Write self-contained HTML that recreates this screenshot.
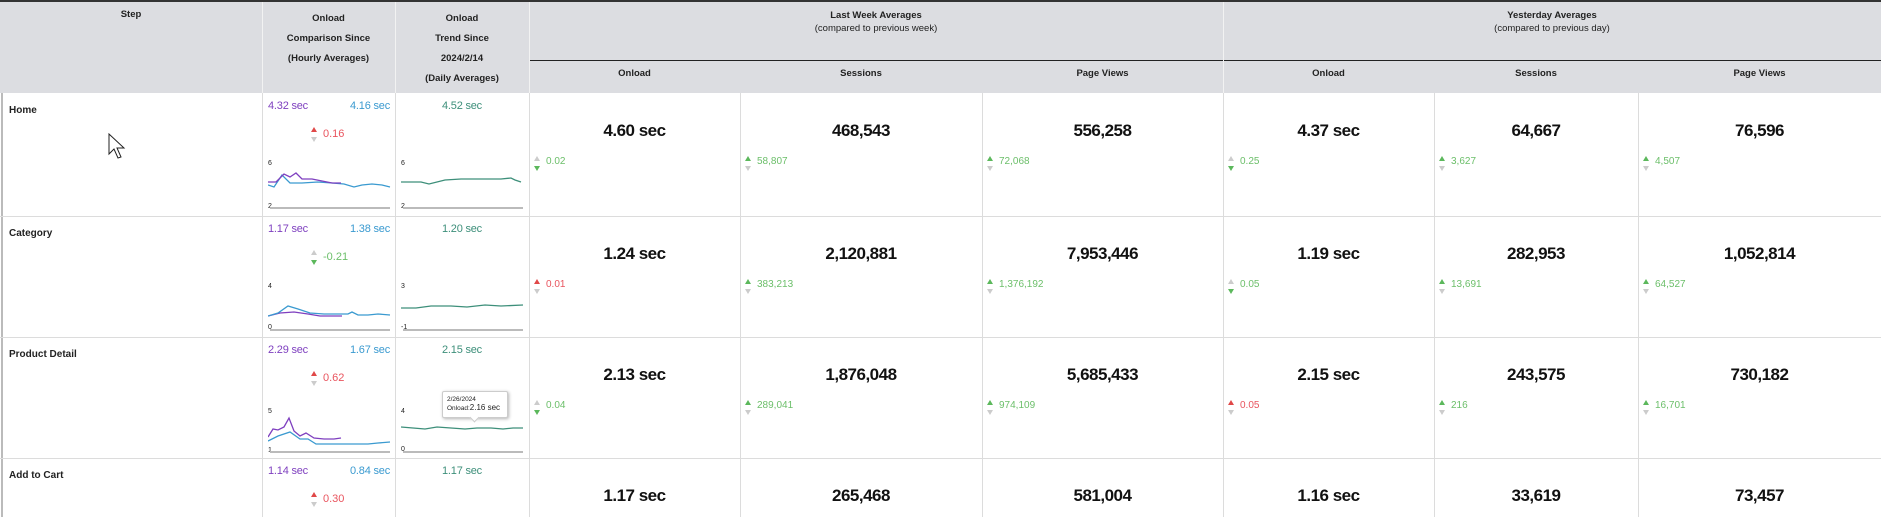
<!DOCTYPE html>
<html><head><meta charset="utf-8"><style>
*{margin:0;padding:0;box-sizing:border-box}
body{width:1881px;height:517px;overflow:hidden;background:#fff;position:relative;font-family:"Liberation Sans Narrow","Liberation Sans",sans-serif;color:#222}
.a{position:absolute}
.hd{font-weight:bold;font-size:9.5px;color:#222;text-align:center;line-height:12px}
.v{position:absolute;width:1px;background:#dcdcdc}
.h{position:absolute;height:1px;background:#dcdcdc;left:0;width:1881px}
.lbl{font-size:10px;font-weight:bold;left:9px;top:12px}
.big{font-size:17px;letter-spacing:-0.5px;font-weight:bold;text-align:center;top:28px;color:#111}
.d{font-size:10px;top:63px}
.tri{position:absolute;width:0;height:0;border-left:3px solid transparent;border-right:3px solid transparent}
.up{border-bottom:5px solid #ccc}
.dn{border-top:5px solid #ccc}
.g{color:#6cbf6a}.r{color:#e9545e}
.up.g{border-bottom-color:#5cb85c}.dn.g{border-top-color:#5cb85c}
.up.r{border-bottom-color:#e04848}
.sv{font-size:11px;top:7px;letter-spacing:-0.2px}
.rt{right:auto;text-align:right;width:60px}
.pu{color:#7e3fbf}.bl{color:#3a9ad0}.tl{color:#3d8f7a}
</style></head><body>
<div class="a" style="left:0;top:0;width:1881px;height:93px;background:#dcdde1"></div>
<div class="a" style="left:0;top:0;width:1881px;height:2px;background:#333"></div>
<div class="a" style="left:529px;top:60px;width:1352px;height:1px;background:#222"></div>
<div class="a" style="left:262px;top:2px;width:1px;height:91px;background:#f2f2f2"></div>
<div class="a" style="left:395px;top:2px;width:1px;height:91px;background:#f2f2f2"></div>
<div class="a" style="left:529px;top:2px;width:1px;height:91px;background:#f2f2f2"></div>
<div class="a" style="left:1223px;top:2px;width:1px;height:91px;background:#f2f2f2"></div>
<div class="a hd" style="left:0;width:262px;top:9px">Step</div>
<div class="a hd" style="left:262px;width:133px;top:9px;line-height:20px">Onload<br>Comparison Since<br>(Hourly Averages)</div>
<div class="a hd" style="left:395px;width:134px;top:9px;line-height:20px">Onload<br>Trend Since<br>2024/2/14<br>(Daily Averages)</div>
<div class="a hd" style="left:529px;width:694px;top:9px;line-height:13px">Last Week Averages<br><span style="font-weight:normal">(compared to previous week)</span></div>
<div class="a hd" style="left:1223px;width:658px;top:9px;line-height:13px">Yesterday Averages<br><span style="font-weight:normal">(compared to previous day)</span></div>
<div class="a hd" style="left:529px;width:211px;top:68px">Onload</div>
<div class="a hd" style="left:740px;width:242px;top:68px">Sessions</div>
<div class="a hd" style="left:982px;width:241px;top:68px">Page Views</div>
<div class="a hd" style="left:1223px;width:211px;top:68px">Onload</div>
<div class="a hd" style="left:1434px;width:204px;top:68px">Sessions</div>
<div class="a hd" style="left:1638px;width:243px;top:68px">Page Views</div>
<div class="a" style="left:1px;top:93px;width:2px;height:424px;background:#bbb"></div>
<div class="v" style="left:262px;top:93px;height:424px"></div>
<div class="v" style="left:395px;top:93px;height:424px"></div>
<div class="v" style="left:529px;top:93px;height:424px"></div>
<div class="v" style="left:740px;top:93px;height:424px"></div>
<div class="v" style="left:982px;top:93px;height:424px"></div>
<div class="v" style="left:1223px;top:93px;height:424px"></div>
<div class="v" style="left:1434px;top:93px;height:424px"></div>
<div class="v" style="left:1638px;top:93px;height:424px"></div>
<div class="h" style="top:216px"></div>
<div class="h" style="top:337px"></div>
<div class="h" style="top:458px"></div>

<!-- ROW 1 -->
<div class="a" style="left:0;top:93px;width:1881px;height:123px">
<div class="a lbl">Home</div>
<div class="a sv pu" style="left:268px">4.32 sec</div>
<div class="a sv bl rt" style="left:330px">4.16 sec</div>
<div class="tri up r" style="left:311px;top:34px"></div><div class="tri dn" style="left:311px;top:44px"></div>
<div class="a r" style="left:323px;top:35px;font-size:11px">0.16</div>
<svg class="a" style="left:268px;top:62px" width="124" height="56"><text x="0" y="10" font-size="7" fill="#222" font-family="Liberation Sans">6</text><text x="0" y="53" font-size="7" fill="#222" font-family="Liberation Sans">2</text><line x1="2" y1="53" x2="122" y2="53" stroke="#bbb" stroke-width="2"/><polyline fill="none" stroke="#3a9ad0" stroke-width="1.3" points="0,30 6,32 14,20 22,28 34,28 50,27 64,28 76,29 86,32 94,30 104,29 114,30 122,32"/><polyline fill="none" stroke="#7e3fbf" stroke-width="1.3" points="0,27 8,27 16,19 22,22 28,18 34,24 44,24 54,26 64,28 73,28"/></svg>
<div class="a sv tl" style="left:395px;width:134px;text-align:center">4.52 sec</div>
<svg class="a" style="left:401px;top:62px" width="124" height="56"><text x="0" y="10" font-size="7" fill="#222" font-family="Liberation Sans">6</text><text x="0" y="53" font-size="7" fill="#222" font-family="Liberation Sans">2</text><line x1="2" y1="53" x2="122" y2="53" stroke="#bbb" stroke-width="2"/><polyline fill="none" stroke="#3d8f7a" stroke-width="1.3" points="0,27 20,27 28,29 44,25 60,24 80,24 100,24 110,23 114,25 120,27"/></svg>
<div class="a big" style="left:529px;width:211px">4.60 sec</div>
<div class="tri up" style="left:534px;top:63px"></div><div class="tri dn g" style="left:534px;top:73px"></div><div class="a d g" style="left:546px">0.02</div>
<div class="a big" style="left:740px;width:242px">468,543</div>
<div class="tri up g" style="left:745px;top:63px"></div><div class="tri dn" style="left:745px;top:73px"></div><div class="a d g" style="left:757px">58,807</div>
<div class="a big" style="left:982px;width:241px">556,258</div>
<div class="tri up g" style="left:987px;top:63px"></div><div class="tri dn" style="left:987px;top:73px"></div><div class="a d g" style="left:999px">72,068</div>
<div class="a big" style="left:1223px;width:211px">4.37 sec</div>
<div class="tri up" style="left:1228px;top:63px"></div><div class="tri dn g" style="left:1228px;top:73px"></div><div class="a d g" style="left:1240px">0.25</div>
<div class="a big" style="left:1434px;width:204px">64,667</div>
<div class="tri up g" style="left:1439px;top:63px"></div><div class="tri dn" style="left:1439px;top:73px"></div><div class="a d g" style="left:1451px">3,627</div>
<div class="a big" style="left:1638px;width:243px">76,596</div>
<div class="tri up g" style="left:1643px;top:63px"></div><div class="tri dn" style="left:1643px;top:73px"></div><div class="a d g" style="left:1655px">4,507</div>
<svg class="a" style="left:108px;top:40px" width="18" height="26"><path d="M1,1 L1,21 L6,16 L10,25 L13,24 L9,15 L16,15 Z" fill="#fff" stroke="#222" stroke-width="1"/></svg>
</div>

<!-- ROW 2 -->
<div class="a" style="left:0;top:216px;width:1881px;height:121px">
<div class="a lbl">Category</div>
<div class="a sv pu" style="left:268px">1.17 sec</div>
<div class="a sv bl rt" style="left:330px">1.38 sec</div>
<div class="tri up" style="left:311px;top:34px"></div><div class="tri dn g" style="left:311px;top:44px"></div>
<div class="a g" style="left:323px;top:35px;font-size:11px">-0.21</div>
<svg class="a" style="left:268px;top:62px" width="124" height="56"><text x="0" y="10" font-size="7" fill="#222" font-family="Liberation Sans">4</text><text x="0" y="51" font-size="7" fill="#222" font-family="Liberation Sans">0</text><line x1="2" y1="52" x2="122" y2="52" stroke="#bbb" stroke-width="2"/><polyline fill="none" stroke="#7e3fbf" stroke-width="1.3" points="0,38 12,35 26,34 40,36 52,38 66,38 74,38"/><polyline fill="none" stroke="#3a9ad0" stroke-width="1.3" points="0,38 10,35 20,28 30,31 42,35 56,36 70,36 80,36 84,34 90,37 100,37 110,36 122,37"/></svg>
<div class="a sv tl" style="left:395px;width:134px;text-align:center">1.20 sec</div>
<svg class="a" style="left:401px;top:62px" width="124" height="56"><text x="0" y="10" font-size="7" fill="#222" font-family="Liberation Sans">3</text><text x="0" y="51" font-size="7" fill="#222" font-family="Liberation Sans">-1</text><line x1="2" y1="52" x2="122" y2="52" stroke="#bbb" stroke-width="2"/><polyline fill="none" stroke="#3d8f7a" stroke-width="1.3" points="0,30 15,30 30,28 50,28 66,29 84,27 100,28 122,27"/></svg>
<div class="a big" style="left:529px;width:211px">1.24 sec</div>
<div class="tri up r" style="left:534px;top:63px"></div><div class="tri dn" style="left:534px;top:73px"></div><div class="a d r" style="left:546px">0.01</div>
<div class="a big" style="left:740px;width:242px">2,120,881</div>
<div class="tri up g" style="left:745px;top:63px"></div><div class="tri dn" style="left:745px;top:73px"></div><div class="a d g" style="left:757px">383,213</div>
<div class="a big" style="left:982px;width:241px">7,953,446</div>
<div class="tri up g" style="left:987px;top:63px"></div><div class="tri dn" style="left:987px;top:73px"></div><div class="a d g" style="left:999px">1,376,192</div>
<div class="a big" style="left:1223px;width:211px">1.19 sec</div>
<div class="tri up" style="left:1228px;top:63px"></div><div class="tri dn g" style="left:1228px;top:73px"></div><div class="a d g" style="left:1240px">0.05</div>
<div class="a big" style="left:1434px;width:204px">282,953</div>
<div class="tri up g" style="left:1439px;top:63px"></div><div class="tri dn" style="left:1439px;top:73px"></div><div class="a d g" style="left:1451px">13,691</div>
<div class="a big" style="left:1638px;width:243px">1,052,814</div>
<div class="tri up g" style="left:1643px;top:63px"></div><div class="tri dn" style="left:1643px;top:73px"></div><div class="a d g" style="left:1655px">64,527</div>
</div>

<!-- ROW 3 -->
<div class="a" style="left:0;top:337px;width:1881px;height:121px">
<div class="a lbl">Product Detail</div>
<div class="a sv pu" style="left:268px">2.29 sec</div>
<div class="a sv bl rt" style="left:330px">1.67 sec</div>
<div class="tri up r" style="left:311px;top:34px"></div><div class="tri dn" style="left:311px;top:44px"></div>
<div class="a r" style="left:323px;top:35px;font-size:11px">0.62</div>
<svg class="a" style="left:268px;top:62px" width="124" height="56"><text x="0" y="14" font-size="7" fill="#222" font-family="Liberation Sans">5</text><text x="0" y="53" font-size="7" fill="#222" font-family="Liberation Sans">1</text><line x1="2" y1="53" x2="122" y2="53" stroke="#bbb" stroke-width="2"/><polyline fill="none" stroke="#7e3fbf" stroke-width="1.3" points="0,38 5,30 10,31 16,28 21,19 26,32 32,37 38,34 46,39 56,40 66,40 73,39"/><polyline fill="none" stroke="#3a9ad0" stroke-width="1.3" points="0,42 10,37 22,33 32,40 40,40 48,45 60,45 90,45 100,45 110,44 122,43"/></svg>
<div class="a sv tl" style="left:395px;width:134px;text-align:center">2.15 sec</div>
<svg class="a" style="left:401px;top:62px" width="124" height="56"><text x="0" y="14" font-size="7" fill="#222" font-family="Liberation Sans">4</text><text x="0" y="52" font-size="7" fill="#222" font-family="Liberation Sans">0</text><line x1="2" y1="53" x2="122" y2="53" stroke="#bbb" stroke-width="2"/><polyline fill="none" stroke="#3d8f7a" stroke-width="1.3" points="0,28 12,29 24,30 36,28 50,29 64,30 76,29 90,29 102,30 112,29 122,29"/></svg>
<div class="a" style="left:442px;top:54px;width:66px;height:27px;background:#fff;border:1px solid #ccc;border-radius:2px;box-shadow:1px 1px 3px rgba(0,0,0,.3);font-family:'Liberation Sans',sans-serif;font-size:6.5px;line-height:8px;padding:4px 4px;color:#222;white-space:nowrap">2/26/2024<br>Onload:<span style="font-size:8px">2.16 sec</span></div>
<div class="a" style="left:471px;top:77px;width:7px;height:7px;background:#fff;transform:rotate(45deg);border-right:1px solid #ccc;border-bottom:1px solid #ccc"></div>
<div class="a big" style="left:529px;width:211px">2.13 sec</div>
<div class="tri up" style="left:534px;top:63px"></div><div class="tri dn g" style="left:534px;top:73px"></div><div class="a d g" style="left:546px">0.04</div>
<div class="a big" style="left:740px;width:242px">1,876,048</div>
<div class="tri up g" style="left:745px;top:63px"></div><div class="tri dn" style="left:745px;top:73px"></div><div class="a d g" style="left:757px">289,041</div>
<div class="a big" style="left:982px;width:241px">5,685,433</div>
<div class="tri up g" style="left:987px;top:63px"></div><div class="tri dn" style="left:987px;top:73px"></div><div class="a d g" style="left:999px">974,109</div>
<div class="a big" style="left:1223px;width:211px">2.15 sec</div>
<div class="tri up r" style="left:1228px;top:63px"></div><div class="tri dn" style="left:1228px;top:73px"></div><div class="a d r" style="left:1240px">0.05</div>
<div class="a big" style="left:1434px;width:204px">243,575</div>
<div class="tri up g" style="left:1439px;top:63px"></div><div class="tri dn" style="left:1439px;top:73px"></div><div class="a d g" style="left:1451px">216</div>
<div class="a big" style="left:1638px;width:243px">730,182</div>
<div class="tri up g" style="left:1643px;top:63px"></div><div class="tri dn" style="left:1643px;top:73px"></div><div class="a d g" style="left:1655px">16,701</div>
</div>

<!-- ROW 4 -->
<div class="a" style="left:0;top:458px;width:1881px;height:59px">
<div class="a lbl">Add to Cart</div>
<div class="a sv pu" style="left:268px">1.14 sec</div>
<div class="a sv bl rt" style="left:330px">0.84 sec</div>
<div class="tri up r" style="left:311px;top:34px"></div><div class="tri dn" style="left:311px;top:44px"></div>
<div class="a r" style="left:323px;top:35px;font-size:11px">0.30</div>
<div class="a sv tl" style="left:395px;width:134px;text-align:center">1.17 sec</div>
<div class="a big" style="left:529px;width:211px">1.17 sec</div>
<div class="a big" style="left:740px;width:242px">265,468</div>
<div class="a big" style="left:982px;width:241px">581,004</div>
<div class="a big" style="left:1223px;width:211px">1.16 sec</div>
<div class="a big" style="left:1434px;width:204px">33,619</div>
<div class="a big" style="left:1638px;width:243px">73,457</div>
</div>
</body></html>
